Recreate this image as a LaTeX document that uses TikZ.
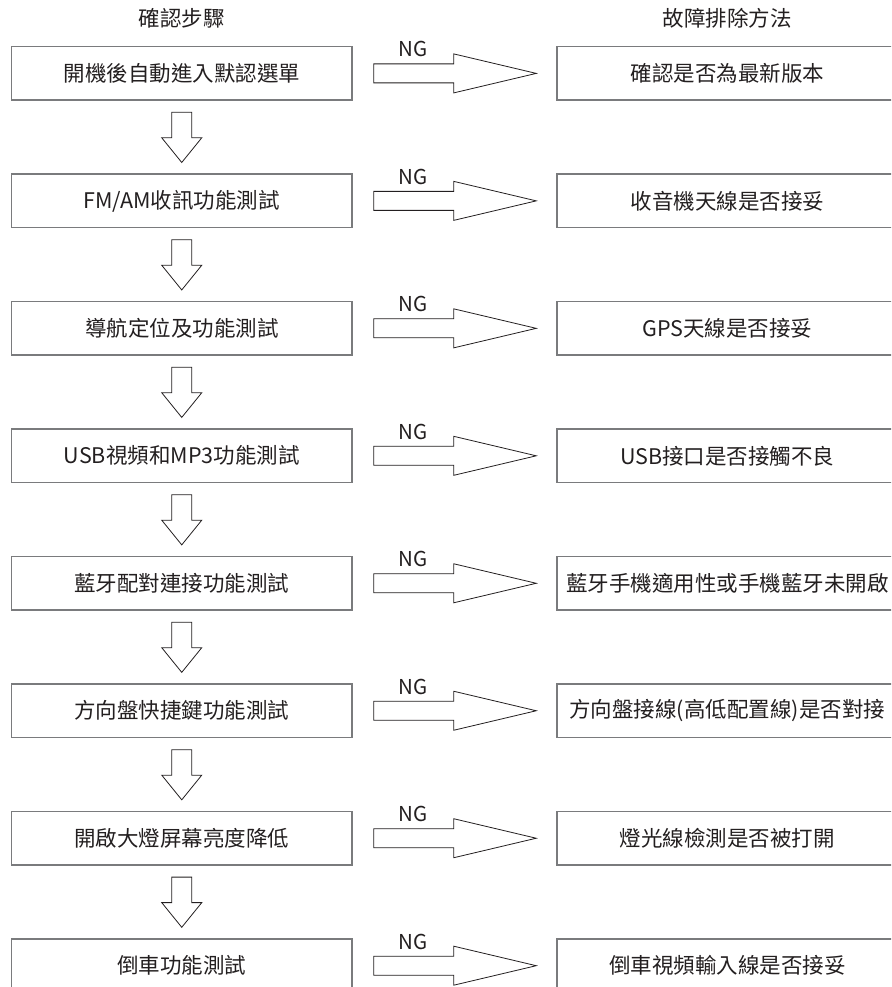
\documentclass[tikz,border=0pt]{standalone}
\usepackage{fontspec}
\setmainfont{Noto Sans CJK TC}
\usetikzlibrary{calc}
\definecolor{chkInk}{HTML}{231F20}
\definecolor{chkFrame}{HTML}{7A7B7D}
\newcommand{\chkfont}{\fontsize{21.5}{24}\selectfont}
\tikzset{
  chk box/.style={draw=chkFrame, line width=1.5pt, minimum width=340.5pt, minimum height=53.3pt, inner sep=0pt, text=chkInk, font=\chkfont},
  chk head/.style={text=chkInk, font=\chkfont},
  chk ng/.style={text=chkInk, font=\fontsize{20.5}{22}\selectfont},
  chk arrow/.style={draw=chkInk, line width=0.8pt, fill=white, line join=miter},
}

\begin{document}
\begin{tikzpicture}[x=1pt,y=-1pt]
  \useasboundingbox (0,0) rectangle (891,987);
  \clip (0,0) rectangle (891,987);
  \node[chk head] (headL) at (181.75,18) {確認步驟};
  \node[chk head] (headR) at (727,18) {故障排除方法};
  % steps on the left, fixes on the right
  \foreach \st/\fx [count=\i] in {
    {開機後自動進入默認選單}/{確認是否為最新版本},
    {FM/AM收訊功能測試}/{收音機天線是否接妥},
    {導航定位及功能測試}/{GPS天線是否接妥},
    {USB視頻和MP3功能測試}/{USB接口是否接觸不良},
    {藍牙配對連接功能測試}/{藍牙手機適用性或手機藍牙未開啟},
    {方向盤快捷鍵功能測試}/{方向盤接線(高低配置線)是否對接},
    {開啟大燈屏幕亮度降低}/{燈光線檢測是否被打開},
    {倒車功能測試}/{倒車視頻輸入線是否接妥}} {
    \pgfmathsetmacro{\y}{73.4+127.47*(\i-1)}
    \node[chk box] (step\i) at (181.75,\y) {\st};
    \node[chk box] (fix\i) at (727.25,\y) {\fx};
  }
  % NG arrows
  \foreach \i in {1,...,8} {
    \draw[chk arrow] ($(step\i.east)+(21,-9.5)$) -- ($(step\i.east)+(101,-9.5)$)
      -- ($(step\i.east)+(101,-19.5)$) -- ($(fix\i.west)+(-20,0)$)
      -- ($(step\i.east)+(101,19.5)$) -- ($(step\i.east)+(101,9.5)$)
      -- ($(step\i.east)+(21,9.5)$) -- cycle;
    \node[chk ng] (ng\i) at ($(step\i.east)+(60,-24)$) {NG};
  }
  % down arrows
  \foreach \i [evaluate=\i as \j using int(\i+1)] in {1,...,7} {
    \draw[chk arrow] ($(step\i.south)+(-10,11.5)$) -- ($(step\i.south)+(-10,37)$)
      -- ($(step\i.south)+(-20,37)$) -- ($(step\j.north)+(0,-11)$)
      -- ($(step\i.south)+(20,37)$) -- ($(step\i.south)+(10,37)$)
      -- ($(step\i.south)+(10,11.5)$) -- cycle;
  }
\end{tikzpicture}
\end{document}
